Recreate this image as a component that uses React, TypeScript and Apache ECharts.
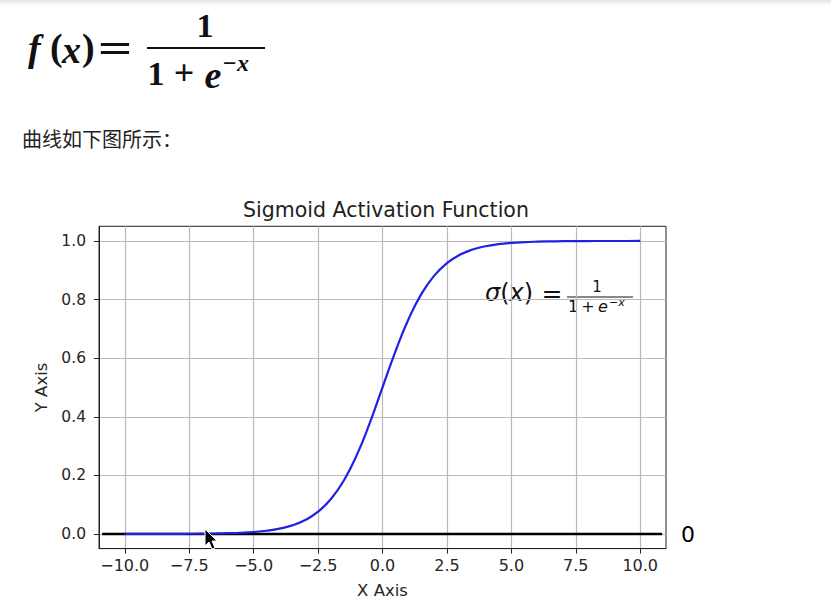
import React, { useEffect, useRef } from "react";
import * as echarts from "echarts";

// ---- data ----
const SIG_X = [
  -10, -9.5, -9, -8.5, -8, -7.5, -7, -6.5, -6, -5.5, -5, -4.5, -4, -3.5, -3, -2.5, -2, -1.5, -1, -0.5,
  0, 0.5, 1, 1.5, 2, 2.5, 3, 3.5, 4, 4.5, 5, 5.5, 6, 6.5, 7, 7.5, 8, 8.5, 9, 9.5, 10,
];
const SIG_Y = [
  0.0, 0.0001, 0.0001, 0.0002, 0.0003, 0.0006, 0.0009, 0.0015, 0.0025, 0.0041, 0.0067, 0.011, 0.018,
  0.0293, 0.0474, 0.0759, 0.1192, 0.1824, 0.2689, 0.3775, 0.5, 0.6225, 0.7311, 0.8176, 0.8808,
  0.9241, 0.9526, 0.9707, 0.982, 0.989, 0.9933, 0.9959, 0.9975, 0.9985, 0.9991, 0.9994, 0.9997,
  0.9998, 0.9999, 0.9999, 1.0,
];
const ZERO_X = [-10.88, 10.85];
const ZERO_Y = [0, 0];
const X_TICKS = [-10, -7.5, -5, -2.5, 0, 2.5, 5, 7.5, 10];
const Y_TICKS = [0, 0.2, 0.4, 0.6, 0.8, 1.0];
const X_RANGE = [-11, 11];
const Y_RANGE = [-0.05, 1.05];

const TITLE = "Sigmoid Activation Function";
const X_NAME = "X Axis";
const Y_NAME = "Y Axis";
const CAPTION = "曲线如下图所示：";

const fmt = (v: number) => v.toFixed(1).replace("-", "\u2212");

export default function App() {
  const ref = useRef<HTMLDivElement>(null);

  useEffect(() => {
    if (!ref.current) return;
    const chart = echarts.init(ref.current, null, { renderer: "svg" });
    const sans = "DejaVu Sans";
    const serif = "Liberation Serif";
    const tickColor = "#262626";
    const ink = "#111";

    const serifText = (t: string, x: number, y: number, size: number, italic = false, extra: any = {}) => {
      const { align, ...rest } = extra;
      return {
        type: "text",
        x,
        y,
        ...rest,
        style: {
          text: t,
          fontFamily: serif,
          fontWeight: "bold",
          fontStyle: italic ? "italic" : "normal",
          fontSize: size,
          fill: ink,
          verticalAlign: "middle",
          align: align || "left",
        },
      };
    };

    const option: any = {
      animation: false,
      backgroundColor: "#ffffff",
      title: {
        text: TITLE,
        left: 381,
        top: 194,
        textAlign: "center",
        textStyle: { fontFamily: sans, fontSize: 20.5, fontWeight: "normal", color: "#222" },
      },
      grid: {
        left: 99,
        top: 226.3,
        width: 567,
        height: 322.3,
        show: true,
        borderColor: "#222",
        borderWidth: 1,
        backgroundColor: "transparent",
        containLabel: false,
        outerBoundsMode: "none",
      },
      xAxis: {
        type: "value",
        min: X_RANGE[0],
        max: X_RANGE[1],
        name: X_NAME,
        nameLocation: "middle",
        nameGap: 33,
        nameTextStyle: { fontFamily: sans, fontSize: 16.5, color: tickColor },
        axisLine: { show: true, onZero: false, lineStyle: { color: "#222", width: 1 } },
        axisTick: { show: true, inside: false, length: 5, customValues: X_TICKS, lineStyle: { color: "#222" } },
        axisLabel: {
          customValues: X_TICKS,
          formatter: fmt,
          fontFamily: sans,
          fontSize: 16,
          color: tickColor,
          margin: 9,
        },
        splitLine: { show: true, lineStyle: { color: "#b9b9b9", width: 1.2 } },
      },
      yAxis: {
        type: "value",
        min: Y_RANGE[0],
        max: Y_RANGE[1],
        name: Y_NAME,
        nameLocation: "middle",
        nameGap: 49,
        nameRotate: 90,
        nameTextStyle: { fontFamily: sans, fontSize: 16.5, color: tickColor },
        axisLine: { show: true, onZero: false, lineStyle: { color: "#222", width: 1 } },
        axisTick: { show: true, inside: false, length: 5, customValues: Y_TICKS, lineStyle: { color: "#222" } },
        axisLabel: {
          customValues: Y_TICKS,
          formatter: fmt,
          fontFamily: sans,
          fontSize: 15.5,
          color: tickColor,
          margin: 13,
        },
        splitLine: { show: true, lineStyle: { color: "#b9b9b9", width: 1.2 } },
      },
      series: [
        {
          type: "line",
          data: ZERO_X.map((x, i) => [x, ZERO_Y[i]]),
          symbol: "none",
          lineStyle: { color: "#000", width: 2.6 },
          z: 2,
          silent: true,
        },
        {
          type: "line",
          data: SIG_X.map((x, i) => [x, SIG_Y[i]]),
          symbol: "none",
          smooth: 0.5,
          lineStyle: { color: "#2020e6", width: 2.2 },
          z: 3,
          silent: true,
        },
      ],
      graphic: [
        // top grey strip of the screenshot
        {
          type: "rect",
          shape: { x: 0, y: 0, width: 831, height: 6 },
          style: {
            fill: new echarts.graphic.LinearGradient(0, 0, 0, 1, [
              { offset: 0, color: "#e4e4e4" },
              { offset: 1, color: "#ffffff" },
            ]),
          },
          silent: true,
        },
        // formula f(x) = 1/(1+e^-x)
        serifText("f", 28, 48, 38, true),
        serifText("(", 50, 47, 38),
        serifText("x", 62, 50, 38, true),
        serifText(")", 82, 47, 38),
        serifText("=", 115, 48, 42, false, { align: "center", scaleX: 1.45 }),
        {
          type: "line",
          shape: { x1: 147, y1: 48, x2: 265, y2: 48 },
          style: { stroke: ink, lineWidth: 2.2 },
        },
        serifText("1", 205, 25, 34, false, { align: "center" }),
        serifText("1", 156, 73, 34, false, { align: "center" }),
        serifText("+", 184, 73, 36, false, { align: "center" }),
        serifText("e", 213, 75, 38, true, { align: "center" }),
        serifText("\u2212", 223, 63, 24),
        serifText("x", 237, 63, 24, true),
        // caption
        {
          type: "text",
          x: 22,
          y: 138,
          style: {
            text: CAPTION,
            fontFamily: "Noto Sans CJK SC",
            fontSize: 20,
            fill: "#222",
            verticalAlign: "middle",
          },
        },
        // annotation sigma(x) = 1/(1+e^-x)
        {
          type: "text",
          x: 485,
          y: 293,
          style: {
            text: "{i|\u03c3}{u|(}{i|x}{u|)}",
            verticalAlign: "middle",
            rich: {
              i: { fontFamily: sans, fontStyle: "italic", fontSize: 24, fill: ink },
              u: { fontFamily: sans, fontSize: 24, fill: ink },
            },
          },
        },
        {
          type: "text",
          x: 552,
          y: 293,
          style: { text: "=", fontFamily: sans, fontSize: 25, fill: ink, align: "center", verticalAlign: "middle" },
        },
        {
          type: "line",
          shape: { x1: 567, y1: 297, x2: 633, y2: 297 },
          style: { stroke: ink, lineWidth: 1 },
        },
        {
          type: "text",
          x: 597,
          y: 287,
          style: { text: "1", fontFamily: sans, fontSize: 15, fill: ink, align: "center", verticalAlign: "middle" },
        },
        {
          type: "text",
          x: 568,
          y: 306,
          style: { text: "1", fontFamily: sans, fontSize: 16, fill: ink, verticalAlign: "middle" },
        },
        {
          type: "text",
          x: 588,
          y: 306,
          style: { text: "+", fontFamily: sans, fontSize: 16, fill: ink, align: "center", verticalAlign: "middle" },
        },
        {
          type: "text",
          x: 598,
          y: 306,
          style: { text: "e", fontFamily: sans, fontStyle: "italic", fontSize: 16, fill: ink, verticalAlign: "middle" },
        },
        {
          type: "text",
          x: 609,
          y: 302,
          style: {
            text: "{u|\u2212}{i|x}",
            verticalAlign: "middle",
            rich: {
              u: { fontFamily: sans, fontSize: 11, fill: ink },
              i: { fontFamily: sans, fontStyle: "italic", fontSize: 11, fill: ink },
            },
          },
        },
        // the "0" at the right of the zero line
        {
          type: "text",
          x: 681,
          y: 534,
          style: { text: "0", fontFamily: sans, fontSize: 22, fill: "#000", verticalAlign: "middle" },
        },
        // mouse cursor in the screenshot
        {
          type: "polygon",
          shape: {
            points: [
              [205, 529],
              [205, 546],
              [209, 542],
              [212, 549],
              [215, 548],
              [212, 541],
              [217, 541],
            ],
          },
          style: { fill: "#000", stroke: "#fff", lineWidth: 1 },
          z: 100,
        },
      ],
    };

    chart.setOption(option);
    return () => chart.dispose();
  }, []);

  return (
    <div
      ref={ref}
      style={{ position: "absolute", left: 0, top: 0, width: 831, height: 614, background: "#fff" }}
    />
  );
}
